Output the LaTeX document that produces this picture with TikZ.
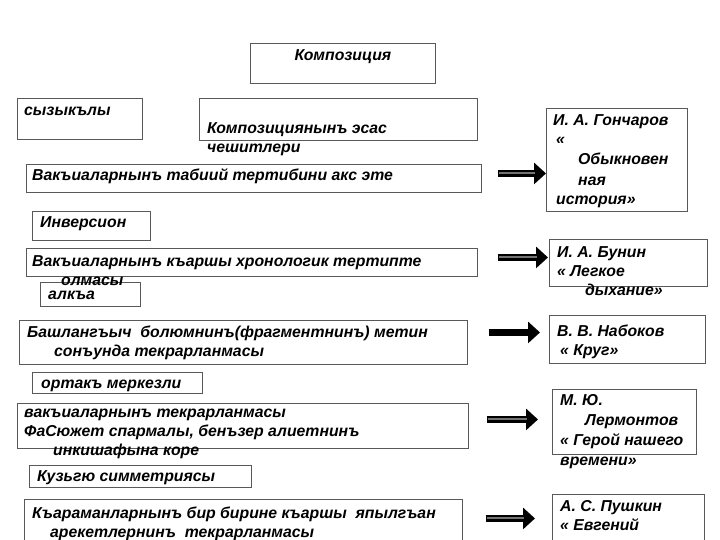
\documentclass[tikz,border=0pt]{standalone}
\usepackage{fontspec}
\setmainfont{Liberation Sans}
\usetikzlibrary{positioning}
\usetikzlibrary{arrows.meta}
\tikzset{
  box/.style={draw=black!65,line width=0.9pt,fill=white,anchor=north west,inner sep=0pt},
  txt/.style={anchor=base west,inner sep=0pt,align=left,
    font=\fontsize{15.8}{19}\selectfont\bfseries\itshape},
  wide/.style={font=\fontsize{15.8}{20}\selectfont\bfseries\itshape},
  fat/.style={line width=7pt,-{Triangle[length=12pt,width=21pt]}},
  hollow/.style 2 args={fat,shorten <=#1,shorten >=#2,
    postaction={draw,-,line width=2pt,black!55,shorten <=#1+1.5pt,shorten >=#2+11pt}}
}

\begin{document}
\begin{tikzpicture}[x=1pt,y=-1pt]
        \clip (0,0) rectangle (720,540);
        % left column
        \node (kompoz) [box,minimum width=185pt,minimum height=40pt] at (250,43) {};
        \node (syzyk) [box,minimum width=125pt,minimum height=41pt] at (17,98) {};
        \node (esas) [box,minimum width=278pt,minimum height=42pt] at (199,98) {};
        \node (tabiy) [box,minimum width=455pt,minimum height=28pt] at (26,164) {};
        \node (inversion) [box,minimum width=118pt,minimum height=29pt] at (32,211) {};
        \node (karshy) [box,minimum width=451pt,minimum height=28pt] at (26,248) {};
        \node (alqa) [box,minimum width=100pt,minimum height=24pt] at (40,282) {};
        \node (bashl) [box,minimum width=448pt,minimum height=44pt] at (19,320) {};
        \node (ortaq) [box,minimum width=170pt,minimum height=21pt] at (32,372) {};
        \node (tekrar) [box,minimum width=451pt,minimum height=45pt] at (17,403) {};
        \node (kuzgu) [box,minimum width=222pt,minimum height=22pt] at (29,465) {};
        \node (qaraman) [box,minimum width=438pt,minimum height=46pt] at (24,499) {};
        % right column
        \node (goncharov) [box,minimum width=141pt,minimum height=103pt] at (546,108) {};
        \node (bunin) [box,minimum width=158pt,minimum height=47pt] at (549,239) {};
        \node (nabokov) [box,minimum width=156pt,minimum height=48pt] at (549,315) {};
        \node (lermontov) [box,minimum width=144pt,minimum height=65pt] at (552,389) {};
        \node (pushkin) [box,minimum width=152pt,minimum height=50pt] at (552,494) {};
        % texts (base = last line)
        \node (kompoztxt) [txt,anchor=base] at ([shift={(0,18)}]kompoz.north) {Композиция};
        \node (syzyktxt) [txt] at ([shift={(7,18)}]syzyk.north west) {сызыкълы};
        \node (esastxt) [txt] at ([shift={(8,55)}]esas.north west) {Композициянынъ эсас\\чешитлери};
        \node (tabiytxt) [txt] at ([shift={(6,17)}]tabiy.north west) {Вакъиаларнынъ табиий тертибини акс эте};
        \node (inversiontxt) [txt] at ([shift={(8,17)}]inversion.north west) {Инверсион};
        \node (karshytxt) [txt] at ([shift={(6,37)}]karshy.north west)
          {Вакъиаларнынъ къаршы хронологик тертипте\\\hspace*{29pt}олмасы};
        \node (alqatxt) [txt] at ([shift={(8,17)}]alqa.north west) {алкъа};
        \node (bashltxt) [txt] at ([shift={(8,36)}]bashl.north west)
          {Башлангъыч\ \ болюмнинъ(фрагментнинъ) метин\\\hspace*{27pt}сонъунда текрарланмасы};
        \node (ortaqtxt) [txt] at ([shift={(9,16)}]ortaq.north west) {ортакъ меркезли};
        \node (tekrartxt) [txt] at ([shift={(7,52)}]tekrar.north west)
          {вакъиаларнынъ текрарланмасы\\ФаСюжет спармалы, бенъзер алиетнинъ\\\hspace*{29pt}инкишафына коре};
        \node (kuzgutxt) [txt] at ([shift={(8,16)}]kuzgu.north west) {Кузьгю симметриясы};
        \node (qaramantxt) [txt] at ([shift={(8,38)}]qaraman.north west)
          {Къараманларнынъ бир бирине къаршы\ \ япылгъан\\\hspace*{18pt}арекетлернинъ\ \ текрарланмасы};
        \node (goncharovtxt) [txt,wide] at ([shift={(7,97)}]goncharov.north west)
          {И. А. Гончаров\\\hspace*{3pt}«\\\hspace*{25pt}Обыкновен\\\hspace*{25pt}ная\\\hspace*{3pt}история»};
        \node (bunintxt) [txt] at ([shift={(8,56)}]bunin.north west)
          {И. А. Бунин\\« Легкое\\\hspace*{28pt}дыхание»};
        \node (nabokovtxt) [txt] at ([shift={(8,40)}]nabokov.north west)
          {В. В. Набоков\\\hspace*{3pt}« Круг»};
        \node (lermontovtxt) [txt,wide] at ([shift={(8,76)}]lermontov.north west)
          {М. Ю.\\\hspace*{25pt}Лермонтов\\« Герой нашего\\времени»};
        \node (pushkintxt) [txt] at ([shift={(8,36)}]pushkin.north west)
          {А. С. Пушкин\\« Евгений};
        % arrows
        \coordinate (s1) at ([yshift=5pt]tabiy.east);
        \coordinate (s2) at ([yshift=5pt]karshy.east);
        \coordinate (s3) at ([yshift=10pt]bashl.east);
        \coordinate (s4) at ([yshift=6.5pt]tekrar.east);
        \coordinate (s5) at ([yshift=4pt]qaraman.east);
        \draw[hollow={16pt}{0pt}] (s1) -- (s1 -| goncharov.west);
        \draw[hollow={20pt}{1pt}] (s2) -- (s2 -| bunin.west);
        \draw[fat,shorten <=21pt,shorten >=9pt] (s3) -- (s3 -| nabokov.west);
        \draw[hollow={18pt}{14pt}] (s4) -- (s4 -| lermontov.west);
        \draw[hollow={23pt}{17pt}] (s5) -- (s5 -| pushkin.west);
\end{tikzpicture}
\end{document}
